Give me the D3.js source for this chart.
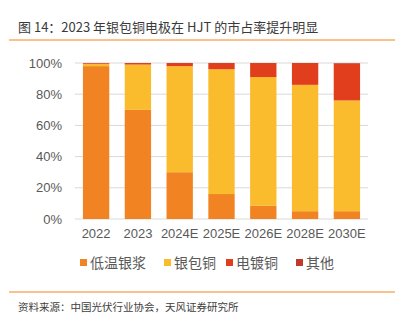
<!DOCTYPE html>
<html lang="zh">
<head>
<meta charset="UTF-8">
<script src="https://d3js.org/d3.v7.min.js"></script>
<style>
  body { margin: 0; background: #fff; }
  text { font-family: "Noto Sans CJK SC", "Liberation Sans", sans-serif; }
</style>
</head>
<body>
<svg width="407" height="324"></svg>
<script>
// data
const years = ["2022", "2023", "2024E", "2025E", "2026E", "2028E", "2030E"];
const seriesNames = ["低温银浆", "银包铜", "电镀铜", "其他"];
const lowTempSilver = [98, 70, 30, 16, 8.5, 5, 5];
const silverCopper  = [1.5, 29, 68, 80, 82.5, 81, 71];
const platedCopper  = [0.5, 1, 2, 4, 9, 14, 23.6];
const others        = [0, 0, 0, 0, 0, 0, 0.4];
const yTicks = [0, 20, 40, 60, 80, 100];
const colors = ["#F28322", "#FABB2C", "#E03E1C", "#C0392B"];

const svg = d3.select("svg");

// title + rule lines
svg.append("text").attr("x", 18).attr("y", 32)
  .attr("font-size", 13).attr("fill", "#3a3a3a")
  .text("图 14：2023 年银包铜电极在 HJT 的市占率提升明显");
svg.append("line").attr("x1", 9).attr("x2", 395).attr("y1", 40).attr("y2", 40)
  .attr("stroke", "#F5841F").attr("stroke-width", 1);
svg.append("line").attr("x1", 9).attr("x2", 395).attr("y1", 292).attr("y2", 292)
  .attr("stroke", "#F5841F").attr("stroke-width", 1);
svg.append("text").attr("x", 18).attr("y", 311)
  .attr("font-size", 10.5).attr("fill", "#404040")
  .text("资料来源：中国光伏行业协会，天风证券研究所");

// stacked data
const table = years.map((y, i) => ({
  year: y,
  "低温银浆": lowTempSilver[i],
  "银包铜": silverCopper[i],
  "电镀铜": platedCopper[i],
  "其他": others[i]
}));
const stacked = d3.stack().keys(seriesNames)(table);

const x = d3.scaleBand().domain(years).range([75, 368]).paddingInner(0.37).paddingOuter(0.19);
const y = d3.scaleLinear().domain([0, 100]).range([219, 63]);

// grid
svg.append("g").selectAll("line").data(yTicks).join("line")
  .attr("x1", 75).attr("x2", 368)
  .attr("y1", d => y(d)).attr("y2", d => y(d))
  .attr("stroke", "#d9d9d9").attr("stroke-width", 1);

svg.append("g").selectAll("text").data(yTicks).join("text")
  .attr("x", 62).attr("y", d => y(d)).attr("dy", "0.35em")
  .attr("text-anchor", "end").attr("font-size", 13).attr("fill", "#595959")
  .style("font-family", "'Liberation Sans', Arial, sans-serif")
  .text(d => d + "%");

// bars
svg.append("g").selectAll("g").data(stacked).join("g")
  .attr("fill", (d, i) => colors[i])
  .selectAll("rect").data(d => d).join("rect")
  .attr("x", d => x(d.data.year))
  .attr("width", x.bandwidth())
  .attr("y", d => y(d[1]))
  .attr("height", d => y(d[0]) - y(d[1]));

// x labels
svg.append("g").selectAll("text").data(years).join("text")
  .attr("x", d => x(d) + x.bandwidth() / 2).attr("y", 238)
  .attr("text-anchor", "middle").attr("font-size", 13).attr("fill", "#595959")
  .style("font-family", "'Liberation Sans', Arial, sans-serif")
  .text(d => d);

// legend
const legendX = [80, 164, 226, 296];
const legend = svg.append("g").selectAll("g").data(seriesNames).join("g")
  .attr("transform", (d, i) => `translate(${legendX[i]},263)`);
legend.append("rect").attr("x", 0).attr("y", -4).attr("width", 7).attr("height", 7)
  .attr("fill", (d, i) => colors[i]);
legend.append("text").attr("x", 10).attr("y", 0).attr("dy", "0.35em")
  .attr("font-size", 14).attr("fill", "#595959")
  .text(d => d);
</script>
</body>
</html>
